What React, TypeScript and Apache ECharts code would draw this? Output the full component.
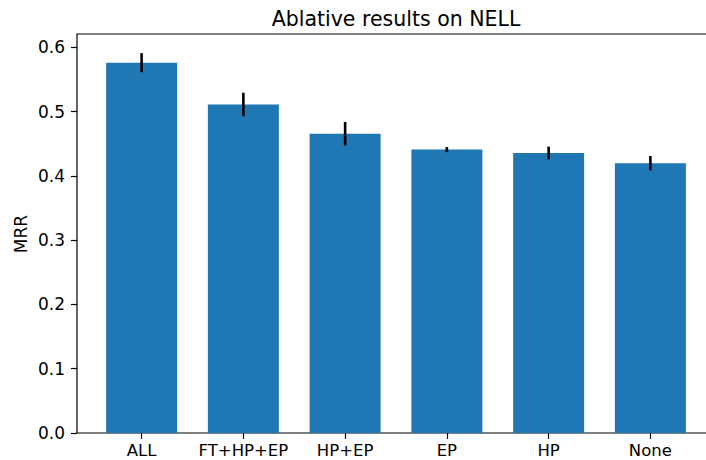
import React, { useEffect, useRef } from "react";
import * as echarts from "echarts";

const categories = ["ALL", "FT+HP+EP", "HP+EP", "EP", "HP", "None"];
const mrrValues = [0.576, 0.511, 0.4656, 0.4408, 0.4355, 0.4197];
const mrrErrors = [0.0148, 0.0182, 0.0182, 0.0039, 0.0099, 0.0112];
const yTickValues = [0, 0.1, 0.2, 0.3, 0.4, 0.5, 0.6];
const xTickValues = categories.map((_, i) => i);
const chartTitle = "Ablative results on NELL";
const yAxisTitle = "MRR";

const FONT = "DejaVu Sans";

export default function App() {
  const ref = useRef<HTMLDivElement>(null);

  useEffect(() => {
    document.body.style.margin = "0";
    if (!ref.current) return;
    const chart = echarts.init(ref.current, undefined, { renderer: "svg" });

    const barData = mrrValues.map((v, i) => [i, v]);
    const errData = mrrValues.map((v, i) => [i, v - mrrErrors[i], v + mrrErrors[i]]);

    const option: any = {
      animation: false,
      backgroundColor: "#ffffff",
      textStyle: { fontFamily: FONT },
      grid: {
        left: 77,
        top: 34,
        width: 638,
        height: 399,
        outerBoundsMode: "none",
        containLabel: false,
        show: true,
        borderColor: "#000000",
        borderWidth: 1.2,
        backgroundColor: "transparent",
      },
      graphic: [
        {
          type: "text",
          x: 396,
          y: 19,
          style: {
            text: chartTitle,
            fontFamily: FONT,
            fontSize: 20.5,
            fill: "#000000",
            textAlign: "center",
            textVerticalAlign: "middle",
          },
        },
        {
          type: "text",
          x: 21,
          y: 234,
          rotation: Math.PI / 2,
          style: {
            text: yAxisTitle,
            fontFamily: FONT,
            fontSize: 17,
            fill: "#000000",
            textAlign: "center",
            textVerticalAlign: "middle",
          },
        },
      ],
      xAxis: {
        type: "value",
        min: -0.635,
        max: 5.635,
        splitLine: { show: false },
        axisLine: { show: false, onZero: false },
        axisTick: {
          show: true,
          length: 6,
          inside: false,
          customValues: xTickValues,
          lineStyle: { color: "#000000", width: 1.2 },
        },
        axisLabel: {
          show: true,
          customValues: xTickValues,
          margin: 10,
          lineHeight: 15,
          color: "#000000",
          fontFamily: FONT,
          fontSize: 16.5,
          formatter: (v: number) => categories[Math.round(v)] ?? "",
        },
      },
      yAxis: {
        type: "value",
        min: 0,
        max: 0.6206,
        splitLine: { show: false },
        axisLine: { show: false, onZero: false },
        axisTick: {
          show: true,
          length: 6,
          inside: false,
          customValues: yTickValues,
          lineStyle: { color: "#000000", width: 1.2 },
        },
        axisLabel: {
          show: true,
          customValues: yTickValues,
          margin: 12,
          color: "#000000",
          fontFamily: FONT,
          fontSize: 17,
          formatter: (v: number) => v.toFixed(1),
        },
      },
      series: [
        {
          type: "bar",
          data: barData,
          barWidth: 71,
          itemStyle: { color: "#1f77b4" },
          z: 2,
        },
        {
          type: "custom",
          data: errData,
          z: 5,
          renderItem: (params: any, api: any) => {
            const x = api.value(0);
            const lo = api.coord([x, api.value(1)]);
            const hi = api.coord([x, api.value(2)]);
            return {
              type: "line",
              shape: { x1: lo[0], y1: lo[1], x2: hi[0], y2: hi[1] },
              style: { stroke: "#000000", lineWidth: 2.6 },
            };
          },
        },
      ],
    };

    chart.setOption(option);
    return () => {
      chart.dispose();
    };
  }, []);

  return (
    <div
      ref={ref}
      style={{ position: "absolute", left: 0, top: 0, width: 706, height: 460 }}
    />
  );
}
